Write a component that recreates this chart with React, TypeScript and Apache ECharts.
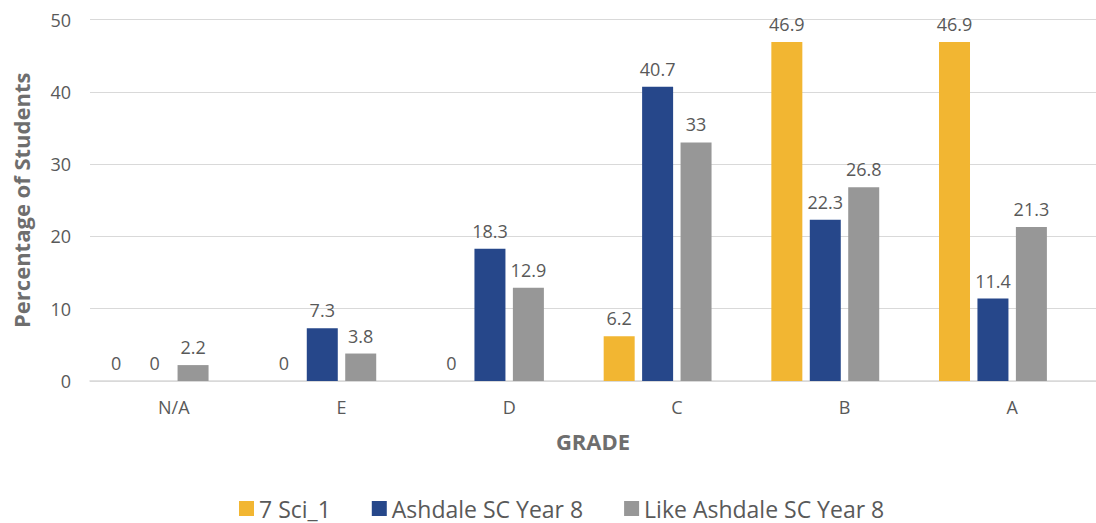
import React, { useEffect, useRef } from "react";
import * as echarts from "echarts";

const categories = ["N/A", "E", "D", "C", "B", "A"];
const sci7 = [0, 0, 0, 6.2, 46.9, 46.9];
const ashdale = [0, 7.3, 18.3, 40.7, 22.3, 11.4];
const likeAshdale = [2.2, 3.8, 12.9, 33, 26.8, 21.3];
const seriesNames = ["7 Sci_1", "Ashdale SC Year 8", "Like Ashdale SC Year 8"];
const colors = ["#F2B632", "#26478A", "#979797"];

export default function App() {
  const ref = useRef<HTMLDivElement>(null);
  useEffect(() => {
    const chart = echarts.init(ref.current!, null, { renderer: "svg" });
    const font = "'Open Sans', sans-serif";
    const label = {
      show: true,
      position: "top" as const,
      distance: 9,
      color: "#595959",
      fontSize: 18,
      fontFamily: font,
    };
    const mk = (name: string, data: number[], color: string) => ({
      name,
      type: "bar" as const,
      data,
      barWidth: 31,
      barGap: "24%",
      itemStyle: { color },
      label,
    });
    chart.setOption({
      animation: false,
      textStyle: { fontFamily: font },
      grid: { left: 90, width: 1016, top: 19.5, bottom: 142 },
      legend: {
        data: seriesNames,
        top: 492,
        left: 234,
        itemWidth: 15,
        itemHeight: 15,
        itemGap: 41,
        icon: "rect",
        textStyle: { color: "#595959", fontSize: 23, fontFamily: font },
      },
      xAxis: {
        type: "category",
        data: categories,
        name: "GRADE",
        nameLocation: "middle",
        nameGap: 49,
        nameTextStyle: { color: "#6E6E6E", fontSize: 22, fontWeight: "bold", fontFamily: font },
        axisLine: { lineStyle: { color: "#D9D9D9", width: 1.5 } },
        axisTick: { show: false },
        axisLabel: { color: "#595959", fontSize: 18, margin: 17, fontFamily: font },
      },
      yAxis: {
        type: "value",
        min: 0,
        max: 50,
        interval: 10,
        name: "Percentage of Students",
        nameLocation: "middle",
        nameGap: 58,
        nameTextStyle: { color: "#6E6E6E", fontSize: 22, fontWeight: "bold", fontFamily: font },
        axisLabel: { color: "#595959", fontSize: 18, margin: 19, fontFamily: font },
        splitLine: { lineStyle: { color: "#D9D9D9", width: 1 } },
      },
      series: [
        mk(seriesNames[0], sci7, colors[0]),
        mk(seriesNames[1], ashdale, colors[1]),
        mk(seriesNames[2], likeAshdale, colors[2]),
        { name: "spacer", type: "bar", data: [], barWidth: 31, barGap: "24%" },
      ],
    });
    return () => chart.dispose();
  }, []);
  return (
    <div
      ref={ref}
      style={{ position: "absolute", left: 0, top: 0, width: 1096, height: 523 }}
    />
  );
}
